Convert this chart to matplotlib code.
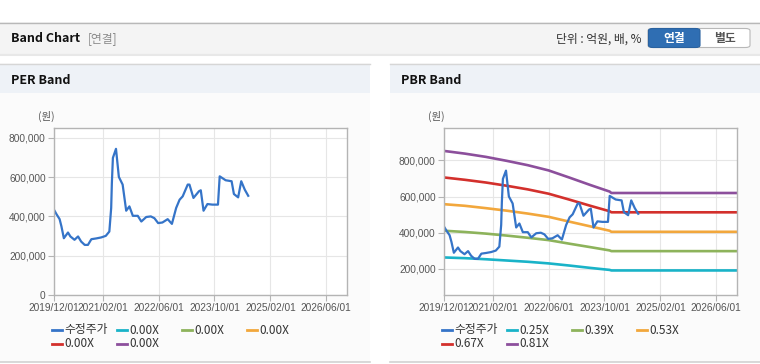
import matplotlib
matplotlib.use("Agg")
import matplotlib.pyplot as plt
from matplotlib.patches import Rectangle, FancyBboxPatch
from matplotlib.lines import Line2D
from matplotlib.ticker import FuncFormatter
from datetime import datetime

plt.rcParams["font.family"] = ["Noto Sans CJK KR", "DejaVu Sans"]

# adjusted close price (수정주가)
price_dates = [
    "2019-12-01", "2019-12-22", "2020-01-19", "2020-02-04", "2020-02-25", "2020-04-01",
    "2020-04-22", "2020-05-28", "2020-06-28", "2020-07-25", "2020-08-25", "2020-09-22",
    "2020-10-22", "2020-12-04", "2021-01-16", "2021-02-25", "2021-03-28", "2021-04-13",
    "2021-04-19", "2021-04-28", "2021-05-25", "2021-06-19", "2021-07-22", "2021-08-22",
    "2021-09-19", "2021-10-19", "2021-12-01", "2022-01-01", "2022-02-13", "2022-03-25",
    "2022-04-25", "2022-05-28", "2022-07-04", "2022-08-19", "2022-09-25", "2022-11-01",
    "2022-12-01", "2022-12-28", "2023-02-10", "2023-02-25", "2023-04-01", "2023-05-19",
    "2023-06-04", "2023-06-28", "2023-08-01", "2023-09-13", "2023-11-01", "2023-11-16",
    "2024-01-07", "2024-02-28", "2024-03-19", "2024-04-25", "2024-05-22", "2024-06-22",
    "2024-07-22",
]
price = [
    434000, 412000, 386000, 349000, 289000, 318000, 298000, 281000, 298000, 272000,
    255000, 255000, 284000, 288000, 293000, 301000, 323000, 443000, 570000, 698000,
    744000, 601000, 562000, 429000, 451000, 403000, 403000, 374000, 397000, 400000,
    391000, 366000, 369000, 386000, 362000, 443000, 485000, 502000, 562000, 562000,
    494000, 528000, 533000, 429000, 463000, 460000, 460000, 604000, 584000, 579000,
    514000, 497000, 579000, 536000, 505000,
]

# PBR band lines
band_dates = [
    "2019-12-01", "2020-06-01", "2020-12-01", "2021-06-01", "2021-12-01", "2022-06-01",
    "2022-12-01", "2023-06-01", "2023-11-15", "2023-12-01", "2026-12-01",
]
band_025 = [263000, 259000, 253000, 246000, 239000, 230000, 218000, 205000, 194000, 191000, 191000]
band_039 = [411000, 404000, 395000, 384000, 372000, 359000, 339000, 320000, 302000, 298000, 298000]
band_053 = [558000, 549000, 536000, 522000, 506000, 488000, 461000, 435000, 411000, 405000, 405000]
band_067 = [706000, 693000, 678000, 660000, 640000, 616000, 583000, 549000, 519000, 513000, 513000]
band_081 = [853000, 838000, 820000, 798000, 774000, 745000, 705000, 664000, 628000, 620000, 620000]

per_labels = ["수정주가", "0.00X", "0.00X", "0.00X", "0.00X", "0.00X"]
pbr_labels = ["수정주가", "0.25X", "0.39X", "0.53X", "0.67X", "0.81X"]
colors = ["#3574c8", "#19b3c8", "#8db35b", "#f2a73c", "#d3302c", "#8c4f9c"]

xticks = ["2019/12/01", "2021/02/01", "2022/06/01", "2023/10/01", "2025/02/01", "2026/06/01"]

W, H = 760, 364


def fx(x):
    return x / W


def fy(y):
    return 1 - y / H


def to_dt(lst):
    return [datetime.strptime(d, "%Y-%m-%d") for d in lst]


fig = plt.figure(figsize=(W / 100, H / 100), dpi=100)
fig.patch.set_facecolor("white")


def rect(x0, y0, x1, y1, fc, ec="none", lw=0, z=0):
    fig.add_artist(Rectangle((fx(x0), fy(y1)), fx(x1) - fx(x0), fy(y0) - fy(y1),
                             transform=fig.transFigure, facecolor=fc, edgecolor=ec,
                             linewidth=lw, zorder=z))


def hline(x0, x1, y, color, lw=1):
    fig.add_artist(Line2D([fx(x0), fx(x1)], [fy(y), fy(y)], transform=fig.transFigure,
                          color=color, linewidth=lw))


# top header bar
rect(0, 22, 760, 53, "#f4f4f4")
hline(0, 760, 22.5, "#b8b8b8", 1)
hline(0, 760, 53.5, "#c4c4c4", 1)
hline(0, 760, 55, "#e8e8e8", 1.5)
fig.text(fx(11), fy(38.5), "Band Chart", fontsize=9, fontweight="bold", color="#111", va="center")
fig.text(fx(88), fy(38.5), "[연결]", fontsize=8.5, color="#8a8a8a", va="center")
fig.text(fx(641), fy(39), "단위 : 억원, 배, %", fontsize=8.5, color="#333", va="center", ha="right")
fig.add_artist(FancyBboxPatch((fx(648), fy(47.5)), fx(102), fy(0) - fy(19),
                              boxstyle="round,pad=0,rounding_size=0.006",
                              transform=fig.transFigure, facecolor="white",
                              edgecolor="#b8b8b8", linewidth=0.8))
fig.add_artist(FancyBboxPatch((fx(648.5), fy(47.5)), fx(51.5), fy(0) - fy(19),
                              boxstyle="round,pad=0,rounding_size=0.006",
                              transform=fig.transFigure, facecolor="#2f6eb3",
                              edgecolor="#2a62a0", linewidth=0.8))
fig.text(fx(674), fy(38.5), "연결", fontsize=8.5, fontweight="bold", color="white", ha="center", va="center")
fig.text(fx(725), fy(38.5), "별도", fontsize=8.5, fontweight="bold", color="#555", ha="center", va="center")


def panel(x0, x1, title):
    rect(x0, 63, x1, 362, "#fbfbfb")
    rect(x0, 64, x1, 93, "#eef2f7")
    hline(x0, x1, 63.5, "#d6d6d6", 1)
    hline(x0, x1, 362, "#d2d2d2", 1.2)
    fig.text(fx(x0 + 11), fy(80), title, fontsize=9, fontweight="bold", color="#111", va="center")


panel(0, 370, "PER Band")
panel(390, 760, "PBR Band")

pd_dt = to_dt(price_dates)
bd_dt = to_dt(band_dates)
tick_dt = [datetime.strptime(t, "%Y/%m/%d") for t in xticks]


def setup_axis(ax, ylim, yticks):
    ax.set_facecolor("white")
    ax.set_xlim(datetime(2019, 12, 1), datetime(2026, 12, 1))
    ax.set_ylim(*ylim)
    ax.set_xticks(tick_dt)
    ax.set_xticklabels(xticks)
    ax.set_yticks(yticks)
    ax.yaxis.set_major_formatter(FuncFormatter(lambda v, p: f"{int(v):,}"))
    ax.grid(True, color="#e6e6e6", linewidth=0.8)
    ax.set_axisbelow(True)
    for s in ax.spines.values():
        s.set_color("#b4b4b4")
        s.set_linewidth(1)
    ax.tick_params(axis="both", colors="#b4b4b4", labelcolor="#555", labelsize=7.3,
                   length=4, width=0.8, pad=2)
    for lab in ax.get_xticklabels() + ax.get_yticklabels():
        lab.set_family("Liberation Sans")


ax1 = fig.add_axes([fx(54), fy(295), fx(293), fy(128) - fy(295)])
setup_axis(ax1, (0, 850000), [0, 200000, 400000, 600000, 800000])
ax1.plot(pd_dt, price, color=colors[0], linewidth=1.6)
fig.text(fx(38), fy(116), "(원)", fontsize=7.5, color="#555", va="center")

ax2 = fig.add_axes([fx(444), fy(295), fx(293), fy(128) - fy(295)])
setup_axis(ax2, (55000, 980000), [200000, 400000, 600000, 800000])
for vals, c in zip([band_025, band_039, band_053, band_067, band_081], colors[1:]):
    ax2.plot(bd_dt, vals, color=c, linewidth=1.9)
ax2.plot(pd_dt, price, color=colors[0], linewidth=1.6)
fig.text(fx(428), fy(116), "(원)", fontsize=7.5, color="#555", va="center")


def legend(x_start, labels):
    cols = [0, 65, 130, 195]
    for i, (lab, c) in enumerate(zip(labels, colors)):
        row, col = divmod(i, 4)
        x = x_start + cols[col]
        y = 330 + row * 13.5
        fig.add_artist(Line2D([fx(x), fx(x + 10)], [fy(y), fy(y)], transform=fig.transFigure,
                              color=c, linewidth=2))
        fig.text(fx(x + 12), fy(y), lab, fontsize=8.5, color="#333", va="center")


legend(52, per_labels)
legend(442, pbr_labels)

fig.savefig("out.png", dpi=100)
